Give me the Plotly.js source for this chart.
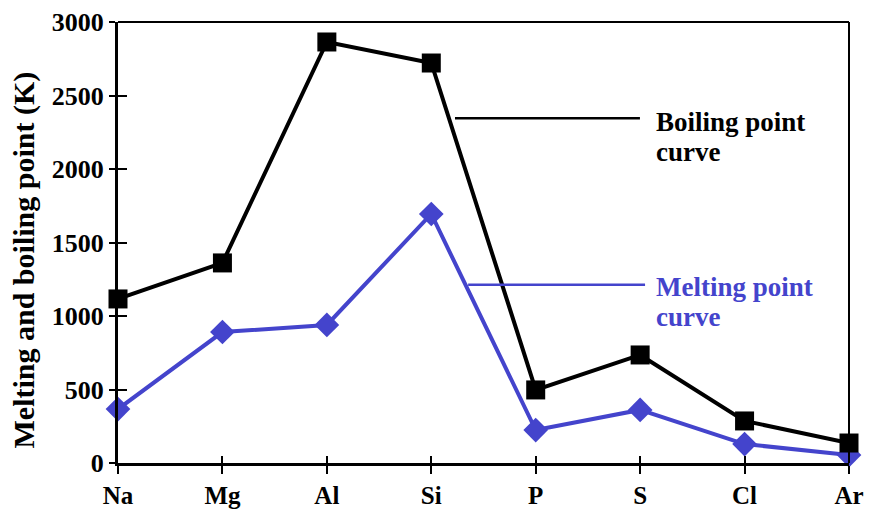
<!DOCTYPE html>
<html>
<head>
<meta charset="utf-8">
<script src="https://cdn.plot.ly/plotly-3.0.1.min.js"></script>
<style>html,body{margin:0;padding:0;background:#fff;}#chart{width:869px;height:509px;}</style>
</head>
<body>
<div id="chart"></div>
<script>
const elements = ["Na", "Mg", "Al", "Si", "P", "S", "Cl", "Ar"];
const boilingPoint = [1116, 1361, 2864, 2721, 497, 735, 286, 136];
const meltingPoint = [367, 891, 939, 1694, 224, 361, 129, 54];
const yTicks = [0, 500, 1000, 1500, 2000, 2500, 3000];
const yTitle = "Melting and boiling point (K)";

const BLUE = "#4444cc";
const FONT = "Liberation Serif";

const traces = [
  {x: [], y: [], xaxis: "x2", yaxis: "y2", showlegend: false, hoverinfo: "skip"},
  {
    x: elements, y: meltingPoint, type: "scatter", mode: "lines+markers",
    line: {color: BLUE, width: 4},
    marker: {symbol: "diamond", size: 19, color: BLUE},
    cliponaxis: false, showlegend: false, name: "Melting point"
  },
  {
    x: elements, y: boilingPoint, type: "scatter", mode: "lines+markers",
    line: {color: "#000", width: 4},
    marker: {symbol: "square", size: 19, color: "#000"},
    cliponaxis: false, showlegend: false, name: "Boiling point"
  }
];

function note(text, y, color) {
  return {xref: "paper", yref: "paper", x: 0.733, y: y, xanchor: "left", yanchor: "middle",
          showarrow: false, text: "<b>" + text + "</b>",
          font: {family: FONT, size: 27, color: color}};
}

const layout = {
  width: 869, height: 509,
  margin: {l: 118, r: 20, t: 22, b: 46},
  paper_bgcolor: "#fff", plot_bgcolor: "#fff",
  font: {family: FONT, size: 22, color: "#000"},
  xaxis: {
    type: "category", range: [0, 7], showgrid: false, zeroline: false,
    showline: true, linecolor: "#000", linewidth: 3,
    ticks: "outside", ticklen: 8, tickwidth: 2, tickcolor: "#000",
    tickfont: {family: FONT, size: 25, color: "#000", weight: "bold"},
    anchor: "y"
  },
  yaxis: {
    range: [0, 3000], tickvals: yTicks, showgrid: false, zeroline: false,
    showline: true, linecolor: "#000", linewidth: 3,
    ticks: "outside", ticklen: 6, tickwidth: 2, tickcolor: "#000",
    tickfont: {family: FONT, size: 26, color: "#000", weight: "bold"},
    anchor: "x"
  },
  xaxis2: {
    overlaying: "x", anchor: "y2", range: [0, 7], dtick: 1, tick0: 0,
    showgrid: false, zeroline: false, showline: false, showticklabels: false,
    ticks: "inside", ticklen: 7, tickwidth: 2, tickcolor: "#000"
  },
  yaxis2: {
    overlaying: "y", anchor: "x2", range: [0, 3000], tickvals: yTicks,
    showgrid: false, zeroline: false, showline: false, showticklabels: false,
    ticks: "inside", ticklen: 9, tickwidth: 2, tickcolor: "#000"
  },
  shapes: [
    {type: "line", xref: "paper", yref: "paper", x0: 0, x1: 1, y0: 1, y1: 1,
     line: {color: "#000", width: 2}},
    {type: "line", xref: "paper", yref: "paper", x0: 1, x1: 1, y0: 0, y1: 1,
     line: {color: "#000", width: 2}},
    {type: "line", xref: "paper", yref: "paper", x0: 0.461, x1: 0.714, y0: 0.782, y1: 0.782,
     line: {color: "#000", width: 2.5}},
    {type: "line", xref: "paper", yref: "paper", x0: 0.479, x1: 0.721, y0: 0.404, y1: 0.404,
     line: {color: BLUE, width: 2.5}}
  ],
  annotations: [
    {xref: "paper", yref: "paper", x: -0.1286, y: 0.4615, xanchor: "center", yanchor: "middle",
     textangle: -90, showarrow: false, text: "<b>" + yTitle + "</b>",
     font: {family: FONT, size: 30, color: "#000"}},
    note("Boiling point", 0.773, "#000"),
    note("curve", 0.705, "#000"),
    note("Melting point", 0.399, BLUE),
    note("curve", 0.331, BLUE)
  ]
};

Plotly.newPlot("chart", traces, layout, {displayModeBar: false, staticPlot: true});
</script>
</body>
</html>
